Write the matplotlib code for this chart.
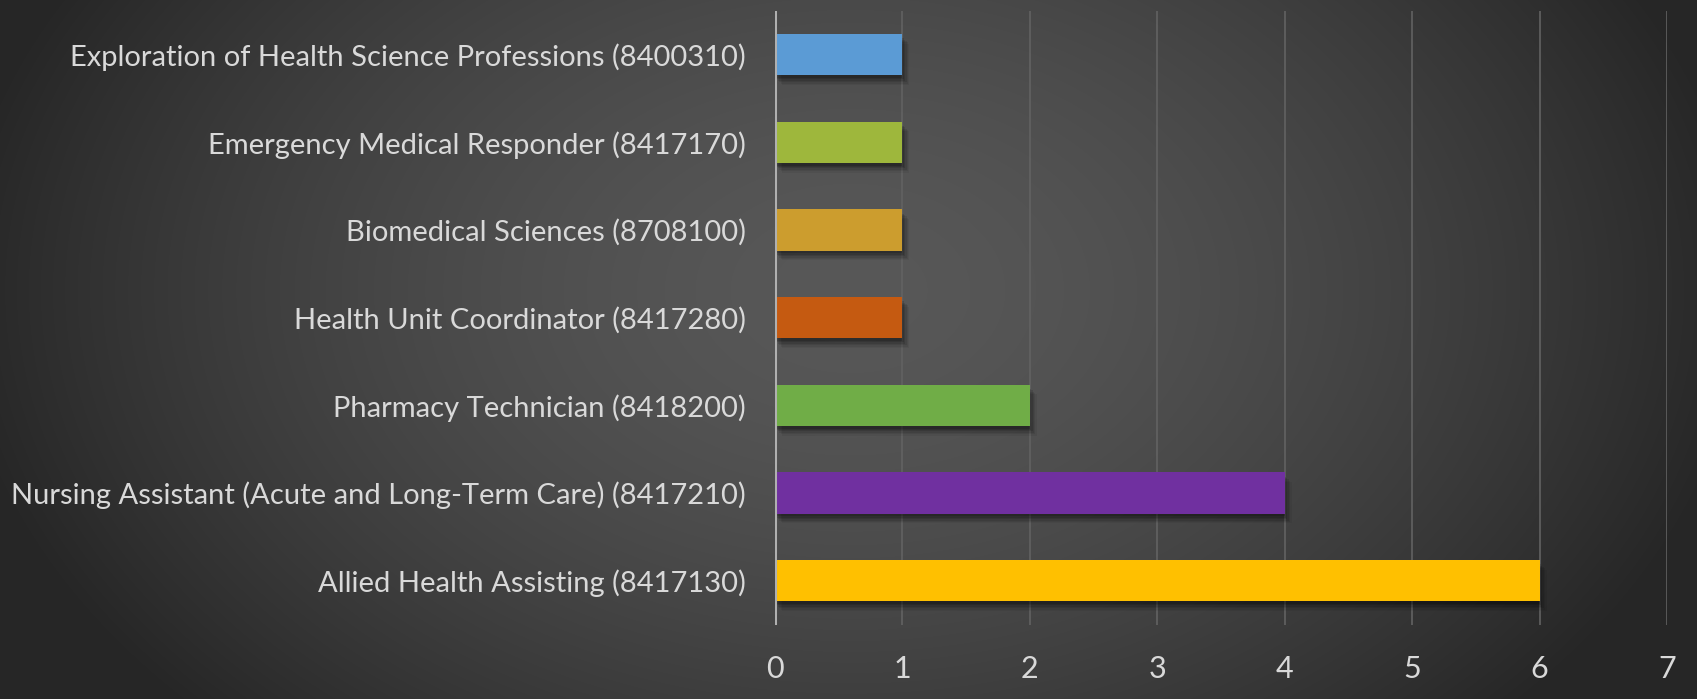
import numpy as np
import matplotlib
matplotlib.use("Agg")
import matplotlib.pyplot as plt
import matplotlib.patheffects as pe

categories = [
    "Allied Health Assisting (8417130)",
    "Nursing Assistant (Acute and Long-Term Care) (8417210)",
    "Pharmacy Technician (8418200)",
    "Health Unit Coordinator (8417280)",
    "Biomedical Sciences (8708100)",
    "Emergency Medical Responder (8417170)",
    "Exploration of Health Science Professions (8400310)",
]
values = [6, 4, 2, 1, 1, 1, 1]
colors = ["#ffc000", "#7030a0", "#70ad47", "#c55a11", "#cc9d2e", "#9eb73c", "#5b9bd5"]
xticks = [0, 1, 2, 3, 4, 5, 6, 7]

W, H = 1697, 699
fig = plt.figure(figsize=(W / 100, H / 100), dpi=100)

# radial gradient background
bg = fig.add_axes([0, 0, 1, 1])
yy, xx = np.mgrid[0:H, 0:W]
cx, cy = 850, 290
r = np.sqrt(((xx - cx) / 900.0) ** 2 + ((yy - cy) / 620.0) ** 2)
r = np.clip(r, 0, 1)
light, dark = 0.345, 0.15
val = light - (light - dark) * r ** 1.6
img = np.dstack([val, val, val])
bg.imshow(img, aspect="auto", extent=[0, 1, 0, 1], origin="upper")
bg.set_axis_off()

ax = fig.add_axes([775 / W, 1 - 624.5 / H, (1667 - 775) / W, (624.5 - 10.8) / H])
ax.set_facecolor("none")
ypos = np.arange(len(categories))
shadow = []
for dx, dy, a in [(5, -7, 0.05), (4, -6, 0.07), (3, -5, 0.09), (2, -4, 0.11),
                  (1, -3, 0.13), (0, -2, 0.15)]:
    shadow.append(pe.SimplePatchShadow(offset=(dx, dy), shadow_rgbFace="black", alpha=a))
shadow.append(pe.Normal())
bars = ax.barh(ypos, values, height=0.47, color=colors, zorder=3)
for b in bars:
    b.set_path_effects(shadow)

ax.set_xlim(0, 7)
ax.set_ylim(-0.5, 6.5)
ax.set_xticks(xticks)
ax.set_xticklabels([str(t) for t in xticks])
ax.set_yticks(ypos)
ax.set_yticklabels(categories)
ax.grid(axis="x", color="#626262", linewidth=1.2, zorder=0)
ax.axvline(0, color="#b0b0b0", linewidth=2.2, zorder=4)
for s in ax.spines.values():
    s.set_visible(False)
ax.tick_params(axis="both", length=0, colors="#d9d9d9")
ax.tick_params(axis="y", pad=21)
ax.tick_params(axis="x", pad=22)
for lab in ax.get_yticklabels():
    lab.set_fontfamily("Lato")
    lab.set_fontsize(21)
    lab.set_color("#d9d9d9")
for lab in ax.get_xticklabels():
    lab.set_fontfamily("Lato")
    lab.set_fontsize(22)
    lab.set_color("#d9d9d9")

fig.savefig("out.png", dpi=100)
